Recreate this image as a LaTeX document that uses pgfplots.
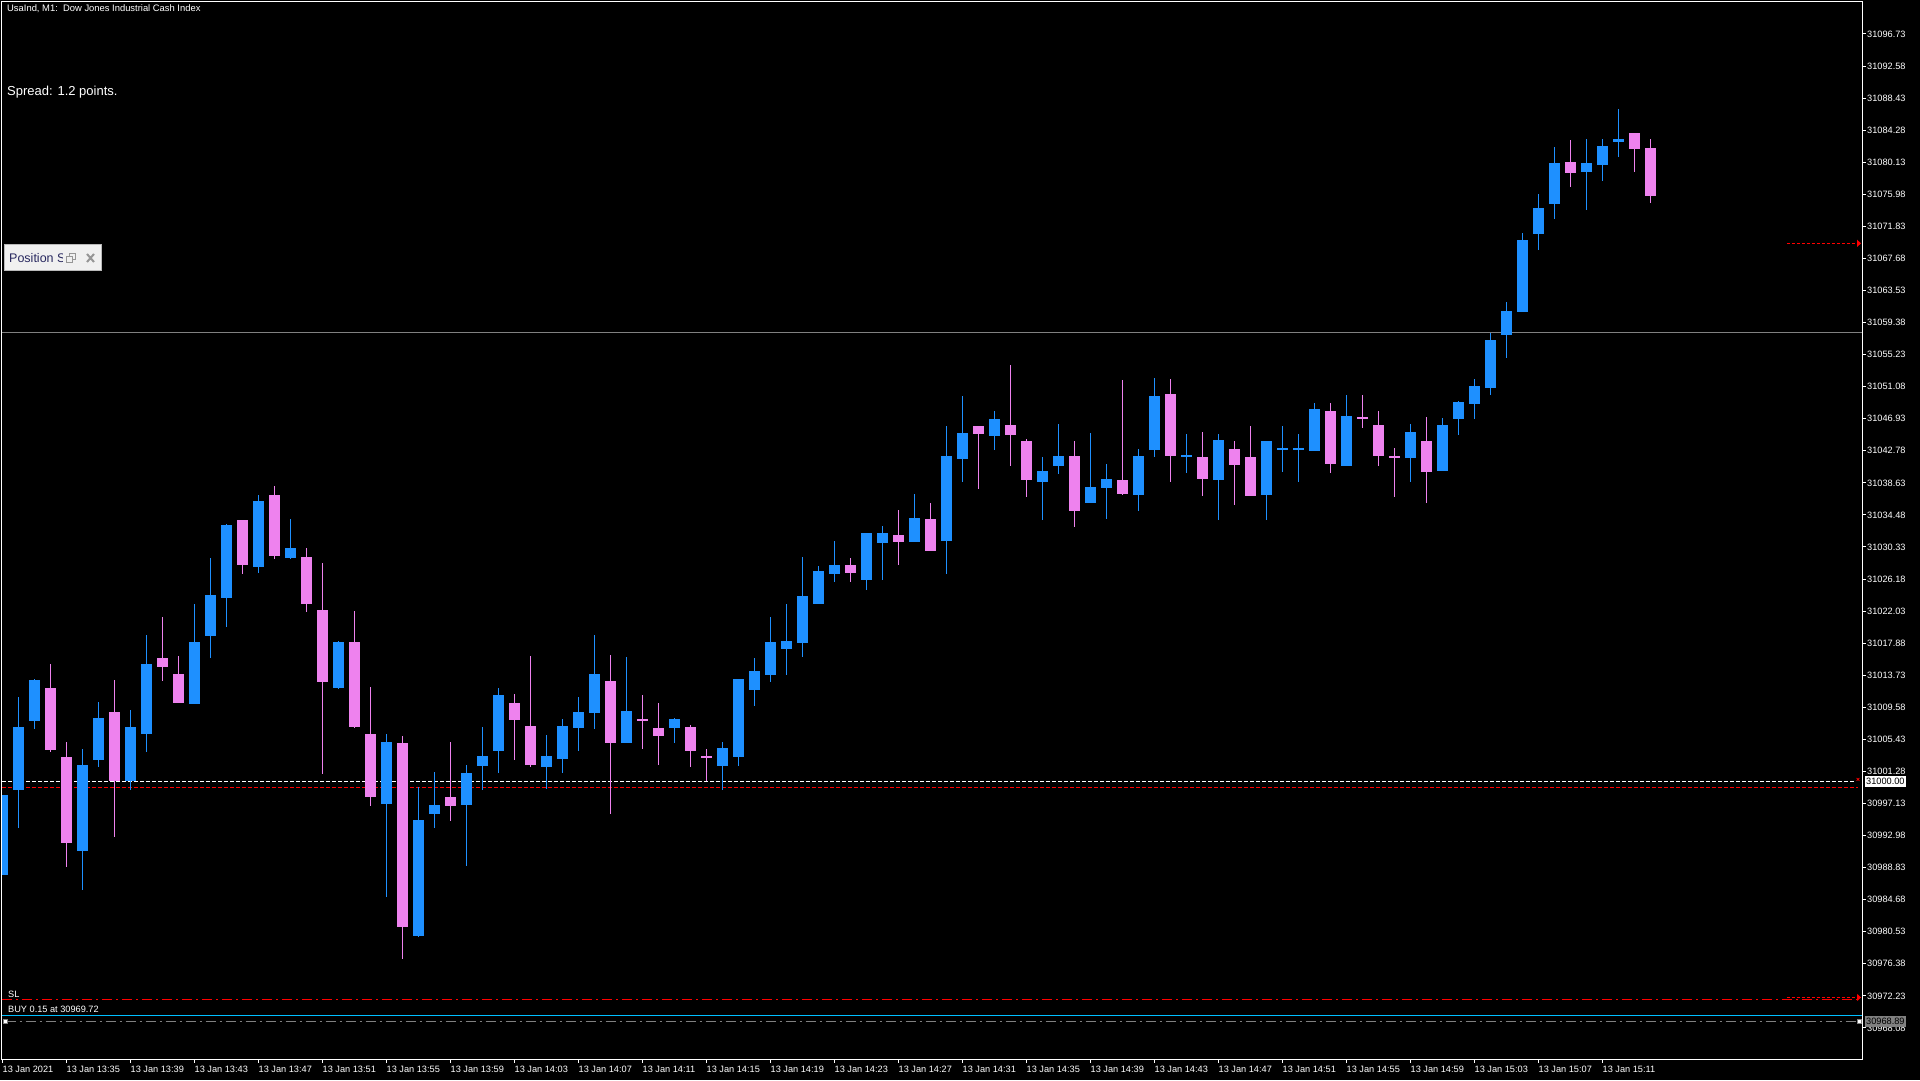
\documentclass[border=0pt]{standalone}
\usepackage{pgfplots}
\pgfplotsset{compat=1.18}
\usepackage{pgfplotstable}
\usepackage{fontspec}
\setmainfont{Liberation Sans}
\usetikzlibrary{arrows.meta}

\definecolor{bull}{RGB}{30,144,255}
\definecolor{bear}{RGB}{238,130,238}
\definecolor{lvl}{RGB}{128,128,128}
\definecolor{buyc}{RGB}{0,191,255}
\definecolor{panel}{RGB}{240,240,240}
\definecolor{panelline}{RGB}{185,185,185}
\definecolor{postext}{RGB}{40,40,95}
\definecolor{icon}{RGB}{150,150,150}

% M1 bars, x = bar index (0 = 13:31)
\pgfplotstableread{
x   o         h         l         c
0   30987.88  30998.23  30987.88  30998.23
1   30998.88  31010.91  30994.00  31007.03
2   31007.81  31013.24  31006.77  31013.11
5   30990.98  31004.18  30985.94  31002.11
6   31002.76  31010.27  31001.86  31008.20
8   31000.00  31009.23  30998.88  31007.03
9   31006.13  31018.94  31003.80  31015.19
12  31010.01  31022.95  31010.01  31018.03
13  31018.81  31028.90  31015.96  31024.12
14  31023.73  31033.30  31019.97  31033.18
16  31027.74  31037.06  31026.96  31036.28
18  31028.90  31033.95  31028.77  31030.20
21  31012.08  31018.16  31011.95  31018.03
24  30997.07  31006.13  30985.03  31005.09
26  30979.98  30999.27  30979.85  30995.00
27  30995.77  31001.21  30993.96  30996.94
29  30996.94  31002.11  30989.04  31001.08
30  31001.98  31007.03  30998.88  31003.28
31  31003.93  31012.08  31001.08  31011.17
34  31001.86  31006.00  30999.01  31003.28
35  31002.89  31008.07  31001.08  31007.16
36  31006.90  31010.91  31003.93  31008.97
37  31008.84  31018.94  31006.77  31013.89
39  31004.96  31016.09  31004.96  31009.10
42  31006.90  31008.20  31004.96  31008.07
45  31001.98  31005.09  30998.88  31004.31
46  31003.15  31013.24  31001.98  31013.24
47  31011.82  31015.96  31009.75  31014.28
48  31013.76  31021.27  31012.86  31018.03
49  31017.13  31022.95  31013.76  31018.16
50  31017.90  31029.03  31016.09  31023.99
51  31022.95  31027.87  31022.95  31027.22
52  31026.83  31031.10  31025.80  31028.00
54  31026.05  31032.14  31024.76  31032.14
55  31030.84  31033.04  31026.05  31032.14
57  31030.97  31037.18  31030.97  31034.08
59  31031.10  31045.98  31026.83  31042.10
60  31041.71  31049.87  31038.74  31045.08
62  31044.69  31047.93  31042.88  31046.89
65  31038.74  31041.97  31033.82  31040.16
66  31040.81  31046.24  31039.77  31042.10
68  31036.02  31045.08  31036.02  31038.09
69  31037.96  31041.07  31033.95  31039.12
71  31037.05  31043.01  31034.98  31042.10
72  31042.88  31052.20  31041.97  31049.87
74  31042.10  31044.95  31039.90  31042.23
76  31038.99  31044.95  31033.82  31044.17
79  31037.05  31044.04  31033.82  31044.04
80  31043.01  31045.98  31040.03  31043.14
81  31042.88  31044.95  31038.74  31043.14
82  31042.75  31048.96  31042.75  31048.18
84  31040.81  31049.99  31040.81  31047.28
88  31041.84  31046.24  31038.74  31045.21
90  31040.16  31047.02  31040.16  31046.11
91  31046.89  31049.22  31044.82  31049.09
92  31048.83  31052.07  31046.89  31051.16
93  31050.90  31058.02  31049.99  31057.11
94  31057.76  31062.03  31054.78  31060.87
95  31060.74  31070.96  31060.74  31070.06
96  31070.83  31076.01  31068.76  31074.20
97  31074.72  31082.09  31072.77  31080.02
99  31078.86  31083.13  31073.94  31080.02
100 31079.76  31083.13  31077.69  31082.22
101 31082.74  31087.01  31080.80  31083.13
}\bullbars

\pgfplotstableread{
x   o         h         l         c
3   31012.08  31015.19  31003.80  31004.06
4   31003.15  31005.09  30988.91  30992.02
7   31008.97  31013.11  30992.80  31000.00
10  31015.96  31021.27  31012.99  31014.80
11  31013.89  31016.22  31010.14  31010.14
15  31033.82  31033.82  31026.83  31028.00
17  31037.06  31038.22  31028.77  31029.16
19  31029.03  31030.20  31021.92  31022.95
20  31022.17  31028.26  31000.95  31012.86
22  31018.03  31022.05  31006.90  31007.03
23  31006.13  31012.21  30996.81  30997.97
25  31004.96  31005.87  30977.01  30981.15
28  30997.97  31005.09  30994.87  30996.81
32  31010.14  31011.30  31002.76  31007.94
33  31007.16  31016.22  31001.86  31002.11
38  31012.99  31016.35  30995.77  31004.96
40  31008.07  31011.17  31004.18  31007.81
41  31006.90  31010.14  31002.11  31005.87
43  31007.03  31007.29  31001.86  31003.93
44  31003.28  31004.18  31000.00  31003.02
53  31027.99  31028.90  31025.79  31026.96
56  31031.88  31035.11  31027.99  31030.97
58  31033.95  31036.02  31029.81  31029.81
61  31045.98  31045.98  31037.83  31044.95
63  31046.11  31053.88  31040.81  31044.82
64  31044.04  31044.30  31036.80  31038.99
67  31042.10  31044.04  31032.91  31034.98
70  31038.99  31051.94  31037.05  31037.18
73  31050.13  31052.07  31038.74  31042.10
75  31041.97  31045.21  31036.92  31039.12
77  31043.01  31044.04  31035.76  31040.94
78  31041.97  31045.98  31036.92  31036.92
83  31047.92  31048.96  31039.90  31041.07
85  31047.15  31049.99  31045.72  31046.89
86  31046.11  31047.93  31040.81  31042.10
87  31042.10  31043.14  31036.80  31041.84
89  31044.04  31047.15  31036.02  31040.03
98  31080.15  31083.00  31076.92  31078.73
102 31083.91  31083.91  31078.86  31081.83
103 31081.96  31083.13  31074.84  31075.75
}\bearbars

\newcommand{\smallfont}{\fontsize{9.2}{10}\selectfont}

\begin{document}
\begin{tikzpicture}
\useasboundingbox (0pt,0pt) rectangle (1920pt,1080pt);
\fill[black] (0pt,0pt) rectangle (1920pt,1080pt);

\begin{axis}[
  at={(2pt,21pt)}, anchor=south west,
  scale only axis, width=1860pt, height=1057pt,
  xmin=-0.03125, xmax=116.22,
  ymin=30964.06, ymax=31100.87,
  axis on top,
  axis line style={white, line width=1pt},
  tick style={white, line width=1pt},
  major tick length=4pt,
  tick align=outside,
  xtick pos=bottom,
  ytick pos=right, yticklabel pos=right,
  scaled y ticks=false,
  xtick={0,4,...,100},
  xticklabels={13 Jan 2021,13 Jan 13:35,13 Jan 13:39,13 Jan 13:43,13 Jan 13:47,
    13 Jan 13:51,13 Jan 13:55,13 Jan 13:59,13 Jan 14:03,13 Jan 14:07,13 Jan 14:11,
    13 Jan 14:15,13 Jan 14:19,13 Jan 14:23,13 Jan 14:27,13 Jan 14:31,13 Jan 14:35,
    13 Jan 14:39,13 Jan 14:43,13 Jan 14:47,13 Jan 14:51,13 Jan 14:55,13 Jan 14:59,
    13 Jan 15:03,13 Jan 15:07,13 Jan 15:11},
  ytick={31096.73,31092.58,31088.43,31084.28,31080.13,31075.98,31071.83,31067.68,
    31063.53,31059.38,31055.23,31051.08,31046.93,31042.78,31038.63,31034.48,
    31030.33,31026.18,31022.03,31017.88,31013.73,31009.58,31005.43,31001.28,
    30997.13,30992.98,30988.83,30984.68,30980.53,30976.38,30972.23,30968.08},
  yticklabels={31096.73,31092.58,31088.43,31084.28,31080.13,31075.98,31071.83,31067.68,
    31063.53,31059.38,31055.23,31051.08,31046.93,31042.78,31038.63,31034.48,
    31030.33,31026.18,31022.03,31017.88,31013.73,31009.58,31005.43,31001.28,
    30997.13,30992.98,30988.83,30984.68,30980.53,30976.38,30972.23,30968.08},
  xticklabel style={anchor=north west, inner sep=0pt, yshift=-2.5pt, font=\smallfont, text=white},
  yticklabel style={anchor=west, inner sep=0pt, xshift=1pt, font=\smallfont, text=white},
  candle/.style 2 args={draw=none, mark=none, forget plot,
    error bars/.cd, y dir=both, y explicit, error mark=none,
    error bar style={draw=#1, line width=#2}},
]

% horizontal levels
\addplot[lvl, line width=1pt] coordinates {(-1,31058.15) (120,31058.15)};
\addplot[red, line width=1pt, dash pattern=on 3pt off 2pt, -{Triangle[length=4pt,width=7pt]}]
  coordinates {(111.53,31069.63) (116.16,31069.63)};
\addplot[white, line width=1pt, dash pattern=on 4pt off 2pt] coordinates {(-0.03,31000.00) (115.8,31000.00)};
\addplot[red, only marks, mark=x, mark size=2pt, mark options={line width=0.8pt}] coordinates {(115.97,31000.25)};
\addplot[red, line width=1pt, dash pattern=on 4pt off 2pt] coordinates {(-0.03,30999.22) (115.97,30999.22)};
\addplot[red, line width=1pt, dash pattern=on 10pt off 4pt on 2pt off 4pt] coordinates {(-0.03,30971.78) (115.97,30971.78)};
\addplot[red, line width=1pt, dash pattern=on 3pt off 2pt, -{Triangle[length=4pt,width=7pt]}]
  coordinates {(111.53,30972.02) (116.16,30972.02)};
\addplot[buyc, line width=1pt] coordinates {(-1,30969.72) (120,30969.72)};
\addplot[lvl, line width=1pt, dash pattern=on 10pt off 4pt on 2pt off 4pt] coordinates {(0.2,30968.89) (115.9,30968.89)};
\addplot[only marks, mark=square*, mark size=2pt, mark options={fill=white, draw=lvl, line width=0.6pt}]
  coordinates {(0.16,30968.89) (116.03,30968.89)};

% wicks
\addplot[candle={bull}{1pt}]
  table[x=x, y expr={0.5*(\thisrow{h}+\thisrow{l})}, y error expr={0.5*(\thisrow{h}-\thisrow{l})}] {\bullbars};
\addplot[candle={bear}{1pt}]
  table[x=x, y expr={0.5*(\thisrow{h}+\thisrow{l})}, y error expr={0.5*(\thisrow{h}-\thisrow{l})}] {\bearbars};
% bodies
\addplot[candle={bull}{11pt}]
  table[x=x, y expr={0.5*(\thisrow{o}+\thisrow{c})}, y error expr={0.5*(\thisrow{c}-\thisrow{o})}] {\bullbars};
\addplot[candle={bear}{11pt}]
  table[x=x, y expr={0.5*(\thisrow{o}+\thisrow{c})}, y error expr={0.5*(\thisrow{o}-\thisrow{c})}] {\bearbars};
\end{axis}

% chart texts
\node[anchor=base west, inner sep=0pt, text=white, font=\fontsize{9.4}{11}\selectfont]
  at (7pt,1068pt) {UsaInd, M1:\ \ Dow Jones Industrial Cash Index};
\node[anchor=base west, inner sep=0pt, text=white, font=\fontsize{13}{15}\selectfont]
  at (7pt,984pt) {Spread: 1.2 points.};
\node[anchor=base west, inner sep=0pt, text=white, font=\smallfont] at (8pt,83pt) {SL};
\node[anchor=base west, inner sep=0pt, text=white, font=\smallfont] at (8pt,68pt) {BUY 0.15 at 30969.72};

% price labels on the scale
\node[anchor=west, fill=white, text=black, inner xsep=1pt, inner ysep=0pt, minimum height=11pt, font=\smallfont]
  at (1865pt,298.7pt) {31000.00};
\node[anchor=west, fill=lvl, text=black, inner xsep=1pt, inner ysep=0pt, minimum height=11pt, font=\smallfont]
  at (1865pt,58.7pt) {30968.89};

% position panel
\filldraw[fill=panel, draw=panelline, line width=1pt] (4.5pt,835.5pt) rectangle (101.5pt,809.5pt);
\begin{scope}
  \clip (5pt,810pt) rectangle (62pt,835pt);
  \node[anchor=base west, inner sep=0pt, text=postext, font=\fontsize{12.5}{14}\selectfont] at (9pt,817.7pt) {Position S};
\end{scope}
\draw[icon, line width=1pt] (69.5pt,826.5pt) rectangle (75.5pt,820.5pt);
\filldraw[fill=panel, draw=icon, line width=1pt] (66.5pt,823.5pt) rectangle (72.5pt,817.5pt);
\draw[icon, line width=2pt] (87pt,826pt) -- (94pt,818pt) (87pt,818pt) -- (94pt,826pt);
\end{tikzpicture}
\end{document}
